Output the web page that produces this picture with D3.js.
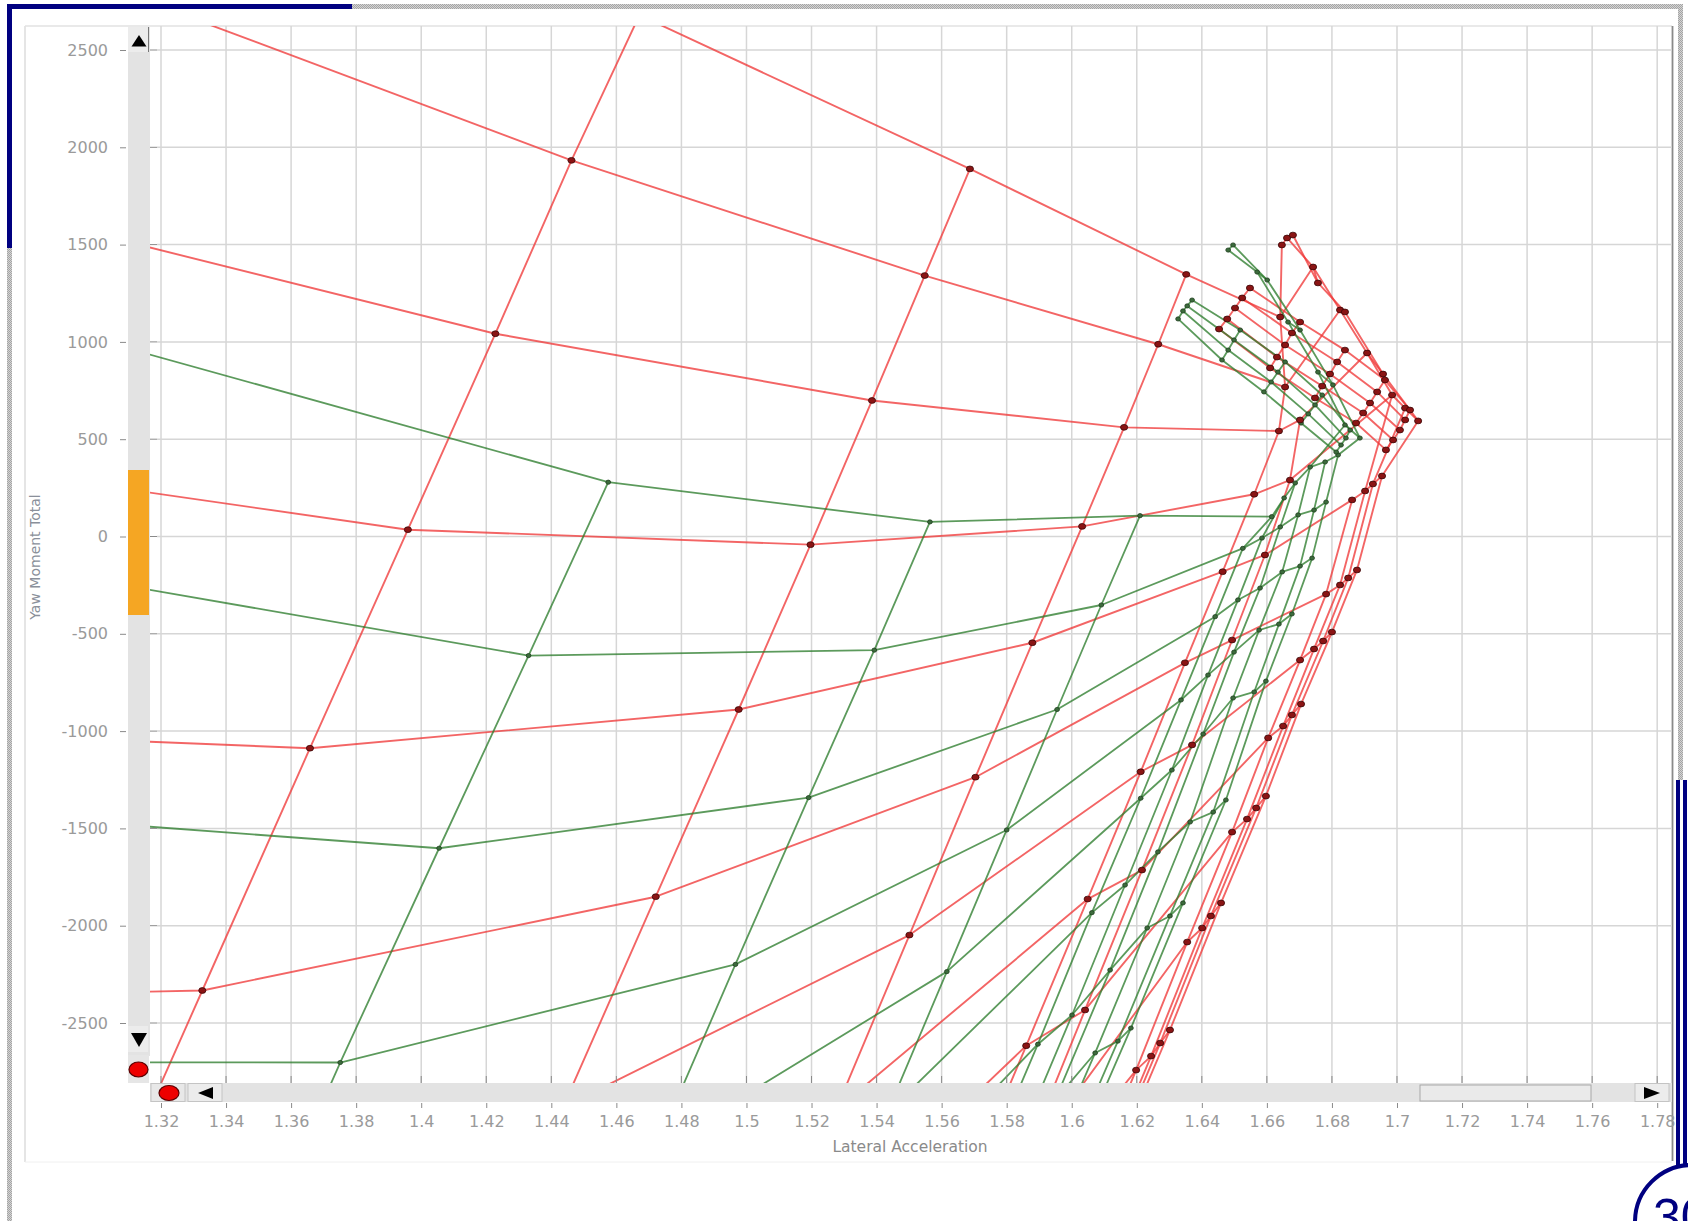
<!DOCTYPE html>
<html>
<head>
<meta charset="utf-8">
<script src="https://cdn.jsdelivr.net/npm/d3@7/dist/d3.min.js"></script>
<style>
  html, body { margin: 0; padding: 0; background: #ffffff; overflow: hidden; }
  svg { display: block; }
</style>
</head>
<body>
<svg id="chart" width="1688" height="1221"></svg>
<script>
// ---------- axis ticks ----------
const xTickValues = [1.32, 1.34, 1.36, 1.38, 1.4, 1.42, 1.44, 1.46, 1.48, 1.5, 1.52, 1.54,
                     1.56, 1.58, 1.6, 1.62, 1.64, 1.66, 1.68, 1.7, 1.72, 1.74, 1.76, 1.78];
const yTickValues = [-2500, -2000, -1500, -1000, -500, 0, 500, 1000, 1500, 2000, 2500];

// ---------- red set: nodes [lateral acceleration, yaw moment] ----------
// each slip line lists its node on every steer line (null = no node)
// steer lines, top to bottom: s-1, s0 ... s11
const redSlip0 = [null, [1.3381, 3785], [1.3105, 2783], [1.2828, 1626], [1.2551, 373], [1.2275, -994], [1.1967, -2382],
                  null, null, null, null, null, null];
const redSlip1 = [null, [1.4671, 2679], [1.4462, 1933], [1.4228, 1042], [1.3959, 35], [1.3658, -1088], [1.3327, -2333],
                  [1.2966, -3692], null, null, null, null, null];
const redSlip2 = [null, [1.5687, 1889], [1.5548, 1341], [1.5386, 699], [1.5197, -42], [1.4976, -889], [1.4721, -1851],
                  [1.4436, -2932], null, null, null, null, null];
const redSlip3 = [null, [1.6352, 1347], [1.6266, 988], [1.6161, 561], [1.6032, 52], [1.5879, -546], [1.5704, -1237],
                  [1.5501, -2048], [1.5275, -2947], [1.5042, -3923], null, null, null];
const redSlip4 = [[1.6646, 1498], [1.6641, 1128], [1.6656, 768], [1.6637, 542], [1.6561, 217], [1.6464, -181], [1.6348, -649],
                  [1.6212, -1209], [1.6049, -1863], [1.5860, -2617], [1.5641, -3487], [1.5411, -4386], [1.5165, -5311]];
const redSlip5 = [null, null, null, [1.6702, 599], [1.6671, 290], [1.6594, -95], [1.6493, -532],
                  [1.6370, -1071], [1.6216, -1714], [1.6041, -2433], [1.5841, -3255], null, null];
const redSlip6 = [null, null, null, null, null, [1.6862, 188], [1.6782, -296],
                  [1.6702, -635], [1.6604, -1035], [1.6493, -1519], [1.6355, -2084], [1.6198, -2742], [1.6026, -3430]];
const redSlip7 = [[1.6662, 1534], [1.6742, 1385], [1.6825, 1164], [1.6908, 943], [1.6985, 727], [1.6902, 234], [1.6825, -249],
                  [1.6745, -578], [1.6650, -974], [1.6539, -1452], [1.6401, -2012], [1.6244, -2670], [1.6072, -3358]];
const redSlip8 = [null, null, null, null, [1.7025, 660], [1.6926, 270], [1.6850, -213],
                  [1.6773, -537], [1.6677, -917], [1.6567, -1395], [1.6428, -1950], [1.6272, -2603], [1.6099, -3291]];
const redSlip9 = [[1.6680, 1549], [1.6757, 1303], [1.6840, 1154], [1.6957, 835], [1.7065, 594], [1.6954, 311], [1.6877, -172],
                  [1.6800, -491], [1.6705, -861], [1.6597, -1334], [1.6459, -1883], [1.6302, -2536], [1.6127, -3225]];
// short folded lines near the limit
const redFold = [
  [[1.6548, 1277], [1.6702, 1102], [1.6840, 958], [1.6963, 804], [1.7040, 650]],
  [[1.6524, 1226], [1.6677, 1046], [1.6816, 897], [1.6939, 743], [1.7025, 599]],
  [[1.6502, 1174], [1.6656, 984], [1.6794, 835], [1.6917, 686], [1.7009, 547]],
  [[1.6478, 1118], [1.6631, 922], [1.6770, 773], [1.6896, 635], [1.6988, 496]],
  [[1.6453, 1066], [1.6610, 866], [1.6748, 712], [1.6874, 583], [1.6966, 445]]
];

// ---------- green set ----------
// steer lines, top to bottom: tT, tS, tR, tQ, tP, a ... i
const greenSlip0 = [null, null, null, null, null, [1.2244, 1364], [1.2244, -6], [1.2244, -1377], [1.2244, -2700],
                    null, null, null, null, null];
const greenSlip1 = [null, null, null, null, null, [1.4575, 279], [1.4330, -612], [1.4055, -1602], [1.3751, -2703],
                    [1.3443, -3872], null, null, null, null];
const greenSlip2 = [null, null, null, null, null, [1.5564, 75], [1.5393, -584], [1.5191, -1342], [1.4966, -2199],
                    [1.4719, -3153], null, null, null, null];
const greenSlip3 = [null, null, null, null, null, [1.6210, 107], [1.6091, -352], [1.5955, -889], [1.5800, -1508],
                    [1.5616, -2236], [1.5432, -2963], [1.5226, -3769], null, null];
const greenSlip4 = [null, null, null, null, null, [1.6615, 102], [1.6526, -61],
                    [1.6441, -412], [1.6336, -840], [1.6212, -1345], [1.6062, -1933], [1.5896, -2609], [1.5718, -3307], [1.5534, -4026]];
const greenSlip5 = [null, null, null, null, null, [1.6653, 198], [1.6585, -8],
                    [1.6511, -326], [1.6419, -712], [1.6308, -1200], [1.6164, -1791], [1.6001, -2459], [1.5826, -3153], null];
const greenSlip6 = [null, null, null, null, null, [1.6687, 275], [1.6641, 49],
                    [1.6579, -265], [1.6499, -594], [1.6404, -1015], [1.6265, -1621], [1.6118, -2228], [1.5949, -2896], null];
const greenSlip7 = [[1.6481, 1472], [1.6570, 1359], [1.6665, 1102], [1.6757, 845], [1.6840, 573], [1.6733, 357], [1.6696, 111],
                    [1.6647, -182], [1.6576, -481], [1.6496, -830], [1.6364, -1467], [1.6232, -2012], [1.6072, -2654], [1.5903, -3307]];
const greenSlip8 = [null, null, null, null, null, [1.6779, 383], [1.6745, 136],
                    [1.6702, -152], [1.6637, -450], [1.6561, -799], [1.6435, -1416], [1.6302, -1950], [1.6142, -2593], [1.5973, -3245]];
const greenSlip9 = [[1.6496, 1498], [1.6601, 1318], [1.6702, 1061], [1.6803, 779], [1.6886, 506], [1.6819, 419], [1.6782, 177],
                    [1.6739, -111], [1.6677, -398], [1.6597, -743], [1.6474, -1354], [1.6342, -1883], [1.6182, -2526], [1.6013, -3178]];
const greenFold = [
  [[1.6370, 1215], [1.6518, 1061], [1.6656, 897], [1.6770, 727], [1.6856, 547]],
  [[1.6355, 1185], [1.6499, 1010], [1.6634, 845], [1.6748, 676], [1.6843, 506]],
  [[1.6342, 1159], [1.6481, 958], [1.6613, 794], [1.6727, 630], [1.6828, 470]],
  [[1.6327, 1118], [1.6462, 907], [1.6591, 743], [1.6705, 583], [1.6813, 434]]
];

// ---------- layout ----------
const W = 1688, H = 1221;
const plot = { left: 150, right: 1672, top: 26, bottom: 1083 };
const x = d3.scaleLinear().domain([1.32, 1.78]).range([161, 1657.2]);
const y = d3.scaleLinear().domain([-2500, 2500]).range([1023, 50]);

const svg = d3.select('#chart');
const defs = svg.append('defs');
defs.append('clipPath').attr('id', 'plotClip')
  .append('rect').attr('x', plot.left).attr('y', plot.top)
  .attr('width', plot.right - plot.left).attr('height', plot.bottom - plot.top);
const pat = defs.append('pattern').attr('id', 'dots').attr('width', 2).attr('height', 2)
  .attr('patternUnits', 'userSpaceOnUse');
pat.append('rect').attr('width', 2).attr('height', 2).attr('fill', '#d4d4d4');
pat.append('rect').attr('width', 1).attr('height', 1).attr('fill', '#a4a4a4');
pat.append('rect').attr('x', 1).attr('y', 1).attr('width', 1).attr('height', 1).attr('fill', '#a4a4a4');

// ---------- page frame ----------
svg.append('rect').attr('x', 0).attr('y', 0).attr('width', W).attr('height', H).attr('fill', '#ffffff');
svg.append('rect').attr('x', 352).attr('y', 4).attr('width', 1331).attr('height', 5).attr('fill', 'url(#dots)');
svg.append('rect').attr('x', 7).attr('y', 248).attr('width', 5).attr('height', H - 248).attr('fill', 'url(#dots)');
svg.append('rect').attr('x', 1678).attr('y', 4).attr('width', 5).attr('height', 776).attr('fill', 'url(#dots)');
svg.append('rect').attr('x', 7).attr('y', 4).attr('width', 345).attr('height', 5).attr('fill', '#000080');
svg.append('rect').attr('x', 7).attr('y', 4).attr('width', 5).attr('height', 244).attr('fill', '#000080');
svg.append('rect').attr('x', 1676).attr('y', 780).attr('width', 4).attr('height', 386).attr('fill', '#000080');
svg.append('rect').attr('x', 1683).attr('y', 780).attr('width', 4).attr('height', 386).attr('fill', '#000080');
svg.append('circle').attr('cx', 1692).attr('cy', 1222).attr('r', 57)
  .attr('fill', '#ffffff').attr('stroke', '#000080').attr('stroke-width', 4);
svg.append('text').attr('x', 1653).attr('y', 1234).attr('fill', '#000080')
  .attr('font-family', 'Liberation Sans, Arial, sans-serif').attr('font-size', 50).text('30');

// chart panel edges
svg.append('line').attr('x1', 25).attr('x2', 25).attr('y1', 26).attr('y2', 1162).attr('stroke', '#dcdcdc').attr('stroke-width', 1.5);
svg.append('line').attr('x1', 25).attr('x2', 1672).attr('y1', 26).attr('y2', 26).attr('stroke', '#e2e2e2').attr('stroke-width', 1.5);
svg.append('line').attr('x1', 25).attr('x2', 1672).attr('y1', 1162).attr('y2', 1162).attr('stroke', '#f0f0f0').attr('stroke-width', 1);
svg.append('line').attr('x1', 1672.5).attr('x2', 1672.5).attr('y1', 26).attr('y2', 1161).attr('stroke', '#8a8a8a').attr('stroke-width', 1.8);

// ---------- grid ----------
const grid = svg.append('g');
grid.selectAll('line.vx').data(xTickValues).join('line').attr('class', 'vx')
  .attr('x1', d => x(d)).attr('x2', d => x(d)).attr('y1', plot.top).attr('y2', plot.bottom)
  .attr('stroke', '#d6d6d6').attr('stroke-width', 1.5);
grid.selectAll('line.hy').data(yTickValues).join('line').attr('class', 'hy')
  .attr('x1', plot.left + 7).attr('x2', plot.right).attr('y1', d => y(d)).attr('y2', d => y(d))
  .attr('stroke', '#d6d6d6').attr('stroke-width', 1.5);

// ---------- curves ----------
const lineGen = d3.line().x(d => x(d[0])).y(d => y(d[1]));
const marks = svg.append('g').attr('clip-path', 'url(#plotClip)');

function family(cols) {
  // steer lines run across the slip lines, slip lines run down each column
  const nRows = cols[0].length;
  const steer = [];
  for (let r = 0; r < nRows; r++) {
    const pts = cols.map(c => c[r]).filter(p => p);
    if (pts.length > 1) steer.push(pts);
  }
  const slip = cols.map(c => c.filter(p => p)).filter(p => p.length > 1);
  return { steer, slip };
}
function crossLinks(fold) {
  const out = [];
  for (let k = 0; k < fold[0].length; k++) out.push(fold.map(l => l[k]));
  return out;
}

const redCols = [redSlip0, redSlip1, redSlip2, redSlip3, redSlip4, redSlip5, redSlip6, redSlip7, redSlip8, redSlip9];
const greenCols = [greenSlip0, greenSlip1, greenSlip2, greenSlip3, greenSlip4, greenSlip5, greenSlip6, greenSlip7, greenSlip8, greenSlip9];
const red = family(redCols);
const green = family(greenCols);
const redLines = red.steer.concat(red.slip, redFold, crossLinks(redFold));
const greenLines = green.steer.concat(green.slip, greenFold, crossLinks(greenFold));

marks.append('g').selectAll('path').data(redLines).join('path')
  .attr('d', lineGen).attr('fill', 'none').attr('stroke', '#f03a3a')
  .attr('stroke-opacity', 0.78).attr('stroke-width', 1.9).attr('stroke-linejoin', 'round');
marks.append('g').selectAll('path').data(greenLines).join('path')
  .attr('d', lineGen).attr('fill', 'none').attr('stroke', '#2e7d2e')
  .attr('stroke-opacity', 0.78).attr('stroke-width', 1.8).attr('stroke-linejoin', 'round');

const greenNodes = greenCols.slice(1).flat().filter(p => p).concat(greenFold.flat());
const redNodes = redCols.slice(1).flat().filter(p => p).concat(redFold.flat());
marks.append('g').selectAll('ellipse').data(greenNodes).join('ellipse')
  .attr('cx', d => x(d[0])).attr('cy', d => y(d[1])).attr('rx', 2.4).attr('ry', 2.1)
  .attr('fill', '#3c6b3c').attr('stroke', '#1e3d1e').attr('stroke-width', 0.8);
marks.append('g').selectAll('ellipse').data(redNodes).join('ellipse')
  .attr('cx', d => x(d[0])).attr('cy', d => y(d[1])).attr('rx', 3.6).attr('ry', 2.9)
  .attr('fill', '#8a1414').attr('stroke', '#3a0606').attr('stroke-width', 0.8);

// ---------- scrollbars ----------
const sb = svg.append('g');
// vertical
sb.append('rect').attr('x', 128).attr('y', 27).attr('width', 22).attr('height', 1029).attr('fill', '#e3e3e3');
sb.append('rect').attr('x', 128).attr('y', 27).attr('width', 20).attr('height', 25).attr('fill', '#ececec');
sb.append('line').attr('x1', 148.5).attr('x2', 148.5).attr('y1', 27).attr('y2', 52).attr('stroke', '#777').attr('stroke-width', 1);
sb.append('path').attr('d', 'M131.5,46.5 L146.5,46.5 L139,35 Z').attr('fill', '#000');
sb.append('rect').attr('x', 128).attr('y', 470).attr('width', 21).attr('height', 145).attr('fill', '#f5a623');
sb.append('rect').attr('x', 128).attr('y', 1026).attr('width', 20).attr('height', 26).attr('fill', '#ececec');
sb.append('path').attr('d', 'M131,1033 L147,1033 L139,1047 Z').attr('fill', '#000');
sb.append('rect').attr('x', 128).attr('y', 1055).attr('width', 21).attr('height', 28).attr('fill', '#e6e6e6');
sb.append('ellipse').attr('cx', 138.5).attr('cy', 1069.5).attr('rx', 9.5).attr('ry', 7.5)
  .attr('fill', '#ee0000').attr('stroke', '#5a0000').attr('stroke-width', 1.2);
// horizontal
sb.append('rect').attr('x', 150).attr('y', 1083).attr('width', 1522).attr('height', 19).attr('fill', '#e3e3e3');
sb.append('rect').attr('x', 151).attr('y', 1083.5).attr('width', 34).attr('height', 18).attr('fill', '#e8e8e8')
  .attr('stroke', '#c4c4c4').attr('stroke-width', 1);
sb.append('ellipse').attr('cx', 169).attr('cy', 1093).attr('rx', 10).attr('ry', 7.5)
  .attr('fill', '#ee0000').attr('stroke', '#5a0000').attr('stroke-width', 1.2);
sb.append('rect').attr('x', 188).attr('y', 1083.5).attr('width', 34).attr('height', 18).attr('fill', '#ececec')
  .attr('stroke', '#c4c4c4').attr('stroke-width', 1);
sb.append('path').attr('d', 'M198,1093 L213,1087 L213,1099 Z').attr('fill', '#000');
sb.append('rect').attr('x', 1420).attr('y', 1085).attr('width', 171).attr('height', 16).attr('fill', '#eaeaea')
  .attr('stroke', '#a8a8a8').attr('stroke-width', 1);
sb.append('rect').attr('x', 1635).attr('y', 1083.5).attr('width', 34).attr('height', 18).attr('fill', '#ececec')
  .attr('stroke', '#c4c4c4').attr('stroke-width', 1);
sb.append('path').attr('d', 'M1644,1087 L1644,1099 L1660,1093 Z').attr('fill', '#000');

// ---------- axes ----------
const tickColor = '#9a9a9a';
const fontFam = 'DejaVu Sans, Verdana, sans-serif';

const xAxis = svg.append('g').attr('transform', 'translate(0,1103)')
  .call(d3.axisBottom(x).tickValues(xTickValues).tickFormat(d => String(d)).tickSize(5).tickPadding(8));
xAxis.select('.domain').remove();
xAxis.selectAll('line').attr('stroke', '#8a8a8a');
xAxis.selectAll('text').attr('fill', tickColor).attr('font-family', fontFam).attr('font-size', 16);

svg.append('g').selectAll('line').data(xTickValues).join('line')
  .attr('x1', d => x(d)).attr('x2', d => x(d)).attr('y1', 1076).attr('y2', 1083)
  .attr('stroke', '#8a8a8a');

const yAxis = svg.append('g').attr('transform', 'translate(126,0)')
  .call(d3.axisLeft(y).tickValues(yTickValues).tickFormat(d => String(d)).tickSize(6).tickPadding(12));
yAxis.select('.domain').remove();
yAxis.selectAll('line').attr('stroke', '#8a8a8a');
yAxis.selectAll('text').attr('fill', tickColor).attr('font-family', fontFam).attr('font-size', 16);

svg.append('g').selectAll('line').data(yTickValues).join('line')
  .attr('x1', 150).attr('x2', 157).attr('y1', d => y(d)).attr('y2', d => y(d))
  .attr('stroke', '#8a8a8a');

svg.append('text').attr('x', 910).attr('y', 1152).attr('text-anchor', 'middle')
  .attr('fill', '#8a8a8a').attr('font-family', fontFam).attr('font-size', 15.5)
  .text('Lateral Acceleration');
svg.append('text').attr('transform', 'translate(40,557) rotate(-90)').attr('text-anchor', 'middle')
  .attr('fill', '#8a909a').attr('font-family', fontFam).attr('font-size', 14)
  .text('Yaw Moment Total');
</script>
</body>
</html>
